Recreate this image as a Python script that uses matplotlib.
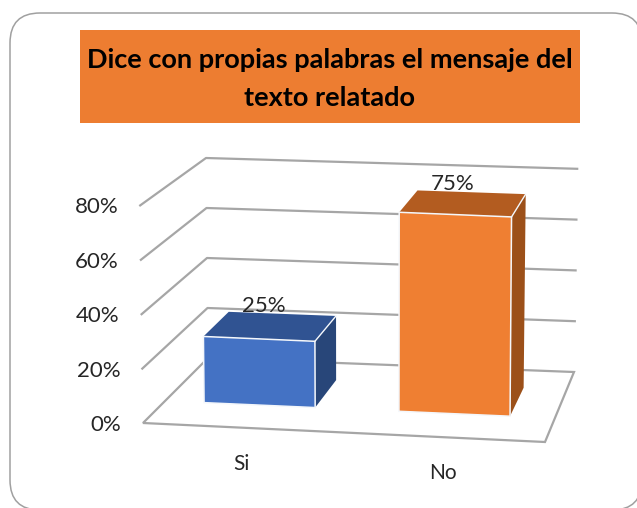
import matplotlib
matplotlib.use('Agg')
import matplotlib.pyplot as plt
from matplotlib.patches import FancyBboxPatch, Polygon, Rectangle

plt.rcParams['font.family'] = ['Lato', 'DejaVu Sans']

categorias = ['Si', 'No']
valores = [25, 75]
etiquetas = ['25%', '75%']
ticks = [0, 20, 40, 60, 80]
tick_labels = ['0%', '20%', '40%', '60%', '80%']
titulo = 'Dice con propias palabras el mensaje del\ntexto relatado'
col_front = ['#4472C4', '#EF7F32']
col_top = ['#305392', '#B35C20']
col_side = ['#284679', '#9C5019']

# floor corners in pixels: front left, front right, back right, back left
FL, FR, BR, BL = (143, 423), (545, 442), (574, 372), (208, 358)
# how much a corner moves per percent going up (dx, dy)
up_FL, up_FR, up_BR, up_BL = (-0.035, -2.72), (0.02, -2.72), (0.04, -2.54), (-0.025, -2.5)


def mix(a, b, c, d, u, z):
    # a,b front left/right, c,d back right/left
    x = (1-z)*((1-u)*a[0] + u*b[0]) + z*((1-u)*d[0] + u*c[0])
    y = (1-z)*((1-u)*a[1] + u*b[1]) + z*((1-u)*d[1] + u*c[1])
    return x, y


def pr(u, z, v):
    base = mix(FL, FR, BR, BL, u, z)
    up = mix(up_FL, up_FR, up_BR, up_BL, u, z)
    return base[0] + up[0]*v, base[1] + up[1]*v


fig = plt.figure(figsize=(6.37, 5.08), dpi=100)
ax = fig.add_axes([0, 0, 1, 1])
ax.set_xlim(0, 637)
ax.set_ylim(508, 0)
ax.axis('off')

# slide panel
ax.add_patch(FancyBboxPatch((10, 13), 632, 497, boxstyle='round,pad=0,rounding_size=30',
                            fc='white', ec='#a0a0a0', lw=1.1, clip_on=True))

# title box
ax.add_patch(Rectangle((80, 30), 500, 93, fc='#ED7D31', ec='none'))
ax.text(330, 79, titulo, ha='center', va='center', fontsize=19.5, fontweight='bold',
        color='black', linespacing=1.75)

# floor
ax.add_patch(Polygon([FL, FR, BR, BL], closed=True, fc='white', ec='#a6a6a6', lw=1.6))

# gridlines and tick labels
for t, lab in zip(ticks, tick_labels):
    if t > 0:
        p = [pr(0, 0, t), pr(0, 1, t), pr(1, 1, t)]
        ax.plot([q[0] for q in p], [q[1] for q in p], color='#a6a6a6', lw=1.6, zorder=2)
    x, y = pr(0, 0, t)
    ax.text(x - 22, y + 2, lab, ha='right', va='center', fontsize=16, color='#262626')

# bars
z0, z1 = 0.34, 0.75
for i, cat in enumerate(categorias):
    v = valores[i]
    u0 = i*0.5 + 0.1
    u1 = u0 + 0.285
    ax.add_patch(Polygon([pr(u1, z0, 0), pr(u1, z1, 0), pr(u1, z1, v), pr(u1, z0, v)],
                         fc=col_side[i], ec='none', zorder=3))
    ax.add_patch(Polygon([pr(u0, z0, v), pr(u1, z0, v), pr(u1, z1, v), pr(u0, z1, v)],
                         fc=col_top[i], ec='none', zorder=3))
    ax.add_patch(Polygon([pr(u0, z0, 0), pr(u1, z0, 0), pr(u1, z0, v), pr(u0, z0, v)],
                         fc=col_front[i], ec='#f4f7fb', lw=1.1, zorder=4))
    ax.plot([pr(u1, z0, v)[0], pr(u1, z1, v)[0]], [pr(u1, z0, v)[1], pr(u1, z1, v)[1]],
            color='#f4f7fb', lw=1, zorder=4)
    # data label
    lx, ly = pr((u0+u1)/2, z1, v)
    ax.text(lx - 19, ly - 8, etiquetas[i], ha='center', va='center', fontsize=16,
            color='#262626', zorder=5)
    # category label
    cx, cy = pr(i*0.5 + 0.25, 0, 0)
    ax.text(cx - 2, cy + 36, cat, ha='center', va='center', fontsize=15, color='#262626')

fig.savefig('out.png', dpi=100)
